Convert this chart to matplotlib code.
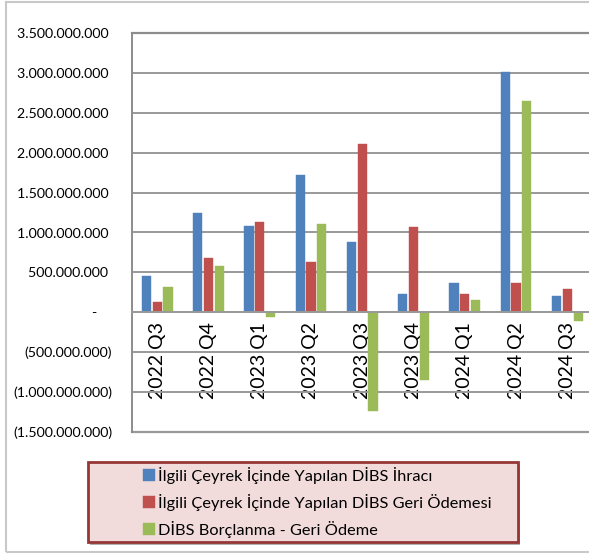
import matplotlib
matplotlib.use("Agg")
import matplotlib.pyplot as plt
from matplotlib.patches import Rectangle, FancyBboxPatch
from matplotlib.ticker import FuncFormatter, MultipleLocator
import numpy as np

plt.rcParams['font.family'] = ['Lato', 'DejaVu Sans']

categories = ["2022 Q3", "2022 Q4", "2023 Q1", "2023 Q2", "2023 Q3",
              "2023 Q4", "2024 Q1", "2024 Q2", "2024 Q3"]
ihrac = [455e6, 1240e6, 1080e6, 1717e6, 881e6, 229e6, 367e6, 3015e6, 200e6]
geri_odeme = [133e6, 677e6, 1128e6, 627e6, 2105e6, 1065e6, 229e6, 367e6, 292e6]
net = [320e6, 576e6, -63e6, 1103e6, -1233e6, -852e6, 150e6, 2652e6, -105e6]
series_names = ["İlgili Çeyrek İçinde Yapılan DİBS İhracı",
                "İlgili Çeyrek İçinde Yapılan DİBS Geri Ödemesi",
                "DİBS Borçlanma - Geri Ödeme"]
colors = ["#4f81bd", "#c0504d", "#9bbb59"]

W, H = 589, 557
fig = plt.figure(figsize=(W / 100, H / 100), dpi=100)

# outer chart border
fig.patches.append(Rectangle((6 / W, 1 - 552 / H), 1.2, (552 - 1.5) / H,
                             transform=fig.transFigure, fill=False,
                             edgecolor="#c8c8c8", lw=1.5, zorder=0))

ax = fig.add_axes([131.5 / W, 1 - 432 / H, (593 - 131.5) / W, (432 - 33) / H])
ax.set_facecolor("none")

x = np.arange(len(categories))
bw = 0.18
step = 0.21
for i, (vals, c, name) in enumerate(zip([ihrac, geri_odeme, net], colors, series_names)):
    ax.bar(x + (i - 1) * step, vals, width=bw, color=c, label=name, zorder=2,
           edgecolor=c, linewidth=0.3)

ax.set_xlim(-0.5, len(categories) - 0.5)
ax.set_ylim(-1.5e9, 3.5e9)
ax.yaxis.set_major_locator(MultipleLocator(5e8))


def fmt(v, pos):
    if abs(v) < 1:
        return "-    "
    s = f"{abs(v):,.0f}".replace(",", ".")
    if v < 0:
        return f"({s})"
    return s + " "


ax.yaxis.set_major_formatter(FuncFormatter(fmt))
ax.grid(axis="y", color="#999999", lw=1.4, zorder=1)
ax.set_axisbelow(True)
ax.axhline(-1.5e9, color="#999999", lw=1.6, clip_on=False, zorder=1)
ax.axhline(3.5e9, color="#8c8c8c", lw=1.6, clip_on=False, zorder=1)

for s in ["top", "right"]:
    ax.spines[s].set_visible(False)
ax.spines["left"].set_color("#8c8c8c")
ax.spines["left"].set_linewidth(1.4)
ax.spines["bottom"].set_position(("data", 0))
ax.spines["bottom"].set_color("#999999")
ax.spines["bottom"].set_linewidth(1.4)

ax.set_xticks(x)
ax.set_xticklabels(categories, rotation=90, fontsize=14, va="top")
ax.tick_params(axis="x", length=0, pad=7)
ax.tick_params(axis="y", length=0, pad=14, labelsize=10.2)

# legend box
lx0, ly0, lx1, ly1 = 88, 462, 518, 542
fig.patches.append(FancyBboxPatch((lx0 / W + 0.004, 1 - ly1 / H - 0.006),
                                  (lx1 - lx0) / W, (ly1 - ly0) / H,
                                  boxstyle="square,pad=0", transform=fig.transFigure,
                                  facecolor="#b0b0b0", edgecolor="none", zorder=1))
fig.patches.append(FancyBboxPatch((lx0 / W, 1 - ly1 / H), (lx1 - lx0) / W, (ly1 - ly0) / H,
                                  boxstyle="square,pad=0", transform=fig.transFigure,
                                  facecolor="#f2dcdb", edgecolor="#953735", lw=2, zorder=2))

leg = fig.legend(loc="upper left", bbox_to_anchor=(143 / W, 1 - 467 / H),
                 frameon=False, fontsize=11.8, handlelength=0.75, handleheight=0.75,
                 handletextpad=0.15, labelspacing=0.6, borderpad=0, borderaxespad=0)
leg.set_zorder(3)

fig.savefig("out.png", dpi=100)
